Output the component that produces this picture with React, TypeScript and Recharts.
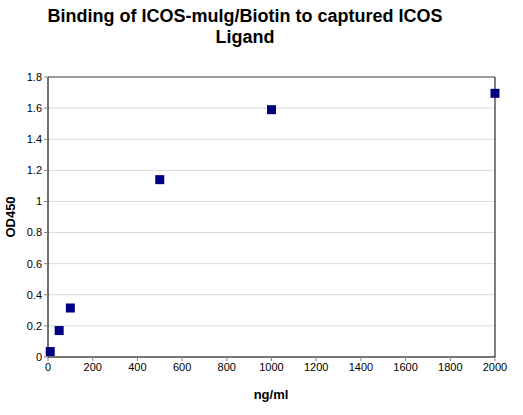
import React from "react"
import {
  ScatterChart,
  Scatter,
  XAxis,
  YAxis,
  CartesianGrid,
  ReferenceLine,
} from "recharts"

const concentrations = [10, 50, 100, 500, 1000, 2000]
const od450 = [0.035, 0.17, 0.315, 1.14, 1.59, 1.695]
const xTicks = [0, 200, 400, 600, 800, 1000, 1200, 1400, 1600, 1800, 2000]
const yTicks = [0, 0.2, 0.4, 0.6, 0.8, 1, 1.2, 1.4, 1.6, 1.8]

const data = concentrations.map((x, i) => ({ x, y: od450[i] }))

const font = "'Liberation Sans', Arial, sans-serif"

const Square = (props: any) => {
  const { cx, cy } = props
  return <rect x={cx - 4.5} y={cy - 4.5} width={9} height={9} fill="#000080" />
}

export default function App() {
  return (
    <div
      style={{
        position: "absolute",
        left: 0,
        top: 0,
        width: 523,
        height: 415,
        background: "#fff",
        fontFamily: font,
      }}
    >
      <div
        style={{
          position: "absolute",
          left: 0,
          top: 6,
          width: 490,
          textAlign: "center",
          fontWeight: "bold",
          fontSize: 18,
          lineHeight: "21px",
        }}
      >
        Binding of ICOS-mulg/Biotin to captured ICOS
        <br />
        Ligand
      </div>
      <ScatterChart
        width={523}
        height={415}
        margin={{ top: 77, right: 28, left: 8, bottom: 28 }}
      >
        <CartesianGrid vertical={false} stroke="#d9d9d9" />
        <XAxis
          type="number"
          dataKey="x"
          domain={[0, 2000]}
          ticks={xTicks}
          height={30}
          tickSize={4}
          stroke="#000"
          tick={{ fill: "#000", fontSize: 11, fontFamily: font }}
          tickLine={{ stroke: "#8080a0" }}
          axisLine={{ stroke: "#000" }}
        />
        <YAxis
          type="number"
          dataKey="y"
          domain={[0, 1.8]}
          ticks={yTicks}
          width={40}
          tickSize={4}
          tick={{ fill: "#000", fontSize: 11, fontFamily: font }}
          tickLine={{ stroke: "#808080" }}
          axisLine={{ stroke: "#404040", strokeWidth: 1.5 }}
        />
        <ReferenceLine y={1.8} stroke="#808080" strokeWidth={1.5} />
        <ReferenceLine x={2000} stroke="#000" />
        <Scatter data={data} shape={<Square />} isAnimationActive={false} />
      </ScatterChart>
      <div
        style={{
          position: "absolute",
          left: 250,
          top: 387,
          width: 42,
          textAlign: "center",
          fontWeight: "bold",
          fontSize: 13,
        }}
      >
        ng/ml
      </div>
      <div
        style={{
          position: "absolute",
          left: 10,
          top: 217,
          transform: "translate(-50%, -50%) rotate(-90deg)",
          fontWeight: "bold",
          fontSize: 13,
          whiteSpace: "nowrap",
        }}
      >
        OD450
      </div>
    </div>
  )
}
